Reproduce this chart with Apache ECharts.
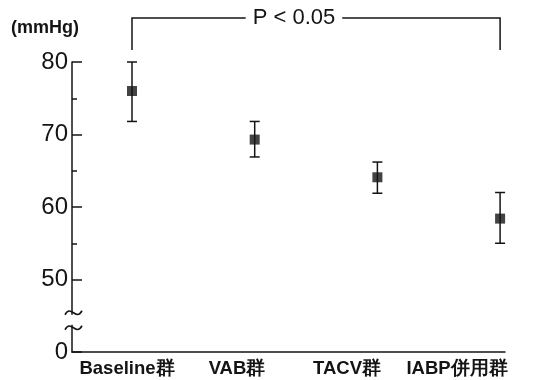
<!DOCTYPE html>
<html><head><meta charset="utf-8">
<script src="https://cdn.jsdelivr.net/npm/echarts@6/dist/echarts.min.js"></script>
<style>html,body{margin:0;padding:0;background:#fff}#c{width:555px;height:380px}</style>
</head><body><div id="c"></div>
<script>
const categories = ['Baseline群', 'VAB群', 'TACV群', 'IABP併用群'];
const means = [76.0, 69.3, 64.1, 58.4];
const upper = [80.0, 71.8, 66.2, 62.0];
const lower = [71.8, 66.9, 61.9, 55.0];
const yTickValues = [40, 50, 60, 70, 80];
const yTickLabels = ['0', '50', '60', '70', '80'];
const yUnit = '(mmHg)';
const pText = 'P < 0.05';

const ink = '#141414';
const font = '"Liberation Sans", Arial, sans-serif';
const chart = echarts.init(document.getElementById('c'));

const idx = categories.map((_, i) => i);
chart.setOption({
  animation: false,
  grid: [
    {left: 72, top: 62, width: 433, height: 290},
    {left: 72, top: 62, width: 440, height: 290}
  ],
  xAxis: [
    {type: 'value', gridIndex: 0, min: -0.489, max: 3.04,
     axisLine: {show: true, onZero: false, lineStyle: {color: ink, width: 1.5}},
     axisTick: {show: false}, axisLabel: {show: false}, splitLine: {show: false}},
    {type: 'category', gridIndex: 1, data: categories,
     axisLine: {show: false}, axisTick: {show: false},
     axisLabel: {interval: 0, color: ink, fontSize: 18.5, fontWeight: 'bold', fontFamily: font, margin: 7}}
  ],
  yAxis: [
    {type: 'value', gridIndex: 0, min: 40, max: 80, interval: 10,
     axisLine: {show: true, onZero: false, lineStyle: {color: ink, width: 1.5}},
     axisTick: {show: true, inside: true, length: 10, lineStyle: {color: ink, width: 1.5}},
     minorTick: {show: true, splitNumber: 2, length: 5, lineStyle: {color: ink, width: 1.5}},
     splitLine: {show: false},
     axisLabel: {color: ink, fontSize: 24, fontFamily: font, margin: 4,
       formatter: v => yTickLabels[yTickValues.indexOf(v)]}},
    {type: 'value', gridIndex: 1, min: 40, max: 80, show: false}
  ],
  series: [
    {type: 'custom', xAxisIndex: 0, yAxisIndex: 0,
     data: idx.map(i => [i, lower[i], upper[i]]),
     renderItem: (params, api) => {
       const lo = api.coord([api.value(0), api.value(1)]);
       const hi = api.coord([api.value(0), api.value(2)]);
       const w = 5;
       const st = {stroke: ink, lineWidth: 1.5};
       return {type: 'group', children: [
         {type: 'line', shape: {x1: lo[0], y1: lo[1], x2: hi[0], y2: hi[1]}, style: st},
         {type: 'line', shape: {x1: lo[0]-w, y1: lo[1], x2: lo[0]+w, y2: lo[1]}, style: st},
         {type: 'line', shape: {x1: hi[0]-w, y1: hi[1], x2: hi[0]+w, y2: hi[1]}, style: st}
       ]};
     }},
    {type: 'scatter', xAxisIndex: 0, yAxisIndex: 0, symbol: 'rect', symbolSize: 10,
     itemStyle: {color: ink}, data: idx.map(i => [i, means[i]]), z: 5}
  ]
});

const p0 = chart.convertToPixel({xAxisIndex: 0, yAxisIndex: 0}, [0, 45]);
const p3 = chart.convertToPixel({xAxisIndex: 0, yAxisIndex: 0}, [3, 45]);
const axisX = chart.convertToPixel({xAxisIndex: 0}, -0.489);
const by = p0[1];
const topY = 18, dropY = 50;
function tilde(cy) {
  return {type: 'bezierCurve', shape: {x1: axisX - 7, y1: cy + 2, x2: axisX + 10, y2: cy - 2,
    cpx1: axisX - 1, cpy1: cy - 9, cpx2: axisX + 4, cpy2: cy + 9},
    style: {stroke: ink, lineWidth: 1.6, fill: null}, z: 20};
}
chart.setOption({
  graphic: [
    {type: 'rect', shape: {x: axisX - 6, y: by - 1, width: 12, height: 10}, style: {fill: '#fff'}, z: 19},
    tilde(by - 3), tilde(by + 12),
    {type: 'polyline', shape: {points: [[p0[0], dropY], [p0[0], topY], [p3[0], topY], [p3[0], dropY]]},
     style: {stroke: ink, lineWidth: 1.5, fill: null}, z: 10},
    {type: 'text', x: p0[0] + 0.44 * (p3[0] - p0[0]), y: topY, z: 11,
     style: {text: pText, fill: ink, font: '22px ' + font, align: 'center', verticalAlign: 'middle',
       backgroundColor: '#fff', padding: [0, 7]}},
    {type: 'text', x: 11, y: 28, z: 11,
     style: {text: yUnit, fill: ink, font: 'bold 18px ' + font, align: 'left', verticalAlign: 'middle'}}
  ]
});
</script></body></html>
